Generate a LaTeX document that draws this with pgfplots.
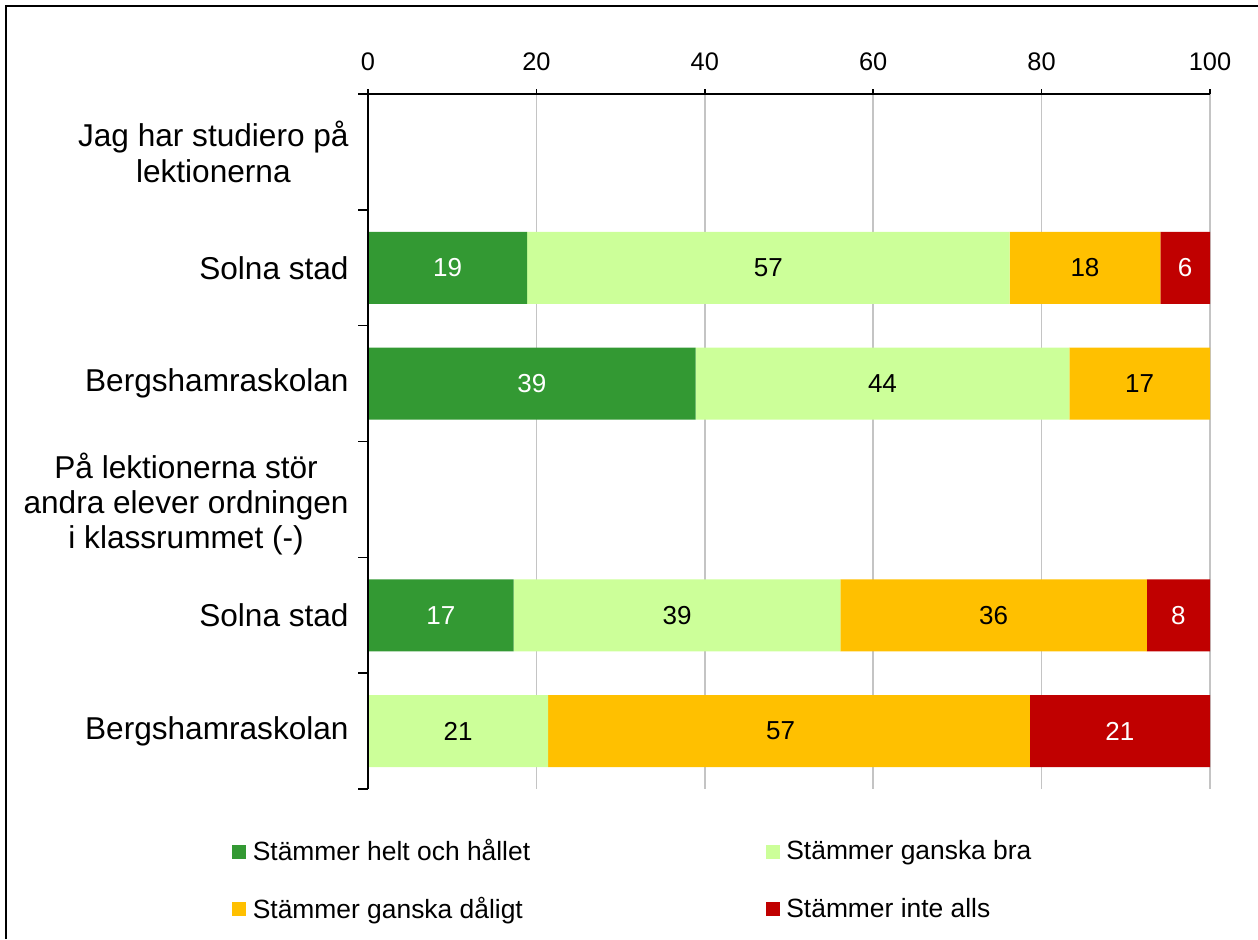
\documentclass[border=0pt]{standalone}
\usepackage{fontspec}
\setmainfont{Liberation Sans}
\usepackage{pgfplots}
\pgfplotsset{compat=1.18}
\definecolor{cA}{HTML}{339933}
\definecolor{cB}{HTML}{CCFF99}
\definecolor{cC}{HTML}{FFC000}
\definecolor{cD}{HTML}{C00000}
\definecolor{gridc}{HTML}{C4C4C4}
\newcommand\tickf{\fontsize{12.7}{15}\selectfont}
\newcommand\smallf{\fontsize{13.2}{15.5}\selectfont}
\newcommand\barf{\fontsize{13}{15.5}\selectfont}
\newcommand\catf{\fontsize{15.8}{17.6}\selectfont}
\pgfplotsset{common/.style={at={(184pt,75pt)}, anchor=south west, scale only axis,
  width=421pt, height=347.5pt, xmin=0, xmax=100, ymin=-0.5, ymax=5.5, y dir=reverse}}
\begin{document}
\begin{tikzpicture}
\useasboundingbox (0,0) rectangle (629pt,469.5pt);
\draw[line width=1pt] (3pt,0) -- (3pt,466.5pt) -- (629pt,466.5pt);
\begin{axis}[common,
  xbar stacked, bar width=36pt,
  axis x line*=top, axis y line*=left,
  axis line style={black, line width=0.75pt},
  xtick={0,20,...,100},
  tick align=outside, major tick length=2.5pt,
  tick style={black, line width=0.75pt},
  ytick={0,...,5},
  ytick style={draw=none},
  yticklabels={{Jag har studiero på\\lektionerna}, Solna stad, Bergshamraskolan,
    {\rule{0pt}{17.5pt}På lektionerna stör\\andra elever ordningen\\i klassrummet (-)}, Solna stad, Bergshamraskolan},
  yticklabel style={align=center, font=\catf, inner sep=0pt, xshift=-7pt},
  xticklabel style={font=\tickf, inner sep=0pt, yshift=9pt},
  /pgf/number format/assume math mode=true,
  xmajorgrids, grid style={gridc, line width=0.8pt},
  legend style={at={(-0.1617,-0.0714)}, anchor=north west, draw=none, fill=none, inner sep=0pt,
    nodes={inner sep=0pt, font=\smallf},
    /tikz/every odd column/.append style={column sep=3.3pt},
    /tikz/every even column/.append style={column sep=117.8pt},
    row sep=16.8pt},
  legend columns=2, legend cell align=left,
  legend image code/.code={\fill[#1] (0pt,-3.7pt) rectangle (7pt,3.3pt);},
]
\addplot[fill=cA, draw=none] coordinates {(0,0) (18.9,1) (38.9,2) (0,3) (17.3,4) (0,5)};
\addplot[fill=cB, draw=none] coordinates {(0,0) (57.3,1) (44.4,2) (0,3) (38.8,4) (21.4,5)};
\addplot[fill=cC, draw=none] coordinates {(0,0) (17.9,1) (16.7,2) (0,3) (36.4,4) (57.2,5)};
\addplot[fill=cD, draw=none] coordinates {(0,0) (5.9,1) (0,2) (0,3) (7.5,4) (21.4,5)};
\legend{Stämmer helt och hållet, Stämmer ganska bra, Stämmer ganska dåligt, Stämmer inte alls}
\end{axis}
\begin{axis}[common,
  axis x line=none, axis y line*=left,
  axis line style={black, line width=0.75pt},
  ytick={-0.5,0.5,...,5.5}, yticklabels={},
  tick align=outside, major tick length=5pt,
  tick style={black, line width=0.75pt},
  clip=false,
]
\addplot[draw=none, mark=none, nodes near coords, point meta=explicit symbolic,
  nodes near coords style={anchor=center, font=\barf, text=white}]
  table[meta=lab] {
x y lab
9.45 1 19
97.05 1 6
19.45 2 39
8.65 4 17
96.25 4 8
89.3 5 21
};
\addplot[draw=none, mark=none, nodes near coords, point meta=explicit symbolic,
  nodes near coords style={anchor=center, font=\barf, text=black}]
  table[meta=lab] {
x y lab
47.55 1 57
85.15 1 18
61.1 2 44
91.65 2 17
36.7 4 39
74.3 4 36
10.7 5 21
49.0 5 57
};
\end{axis}
\end{tikzpicture}
\end{document}
